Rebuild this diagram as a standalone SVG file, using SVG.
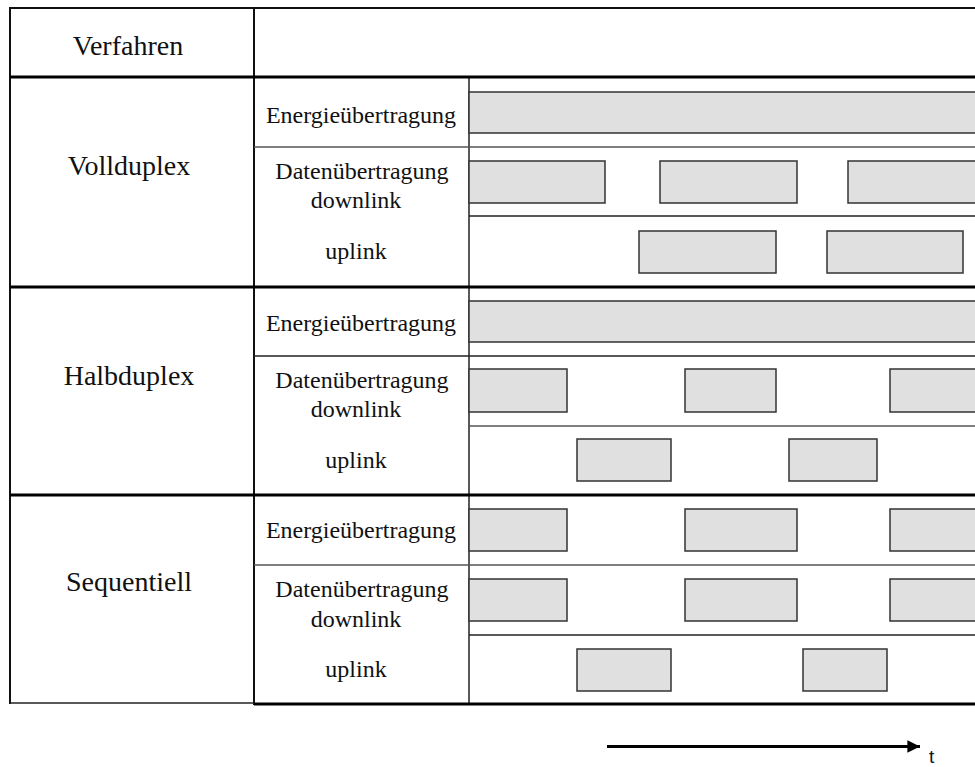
<svg xmlns="http://www.w3.org/2000/svg" width="975" height="767" viewBox="0 0 975 767">
<defs>
<style>
.lbl{font-family:"Liberation Serif","Times New Roman",serif;fill:#111;text-anchor:middle}
.big{font-size:28px}
.sm{font-size:24px}
.thick{stroke:#000;stroke-width:3;fill:none}
.med{stroke:#111;stroke-width:2;fill:none}
.thin{stroke:#222;stroke-width:1.5;fill:none}
.gray{stroke:#555;stroke-width:1.5;fill:none}
.bar{fill:#e0e0e0;stroke:#333;stroke-width:1.5}
</style>
<marker id="ah" viewBox="0 0 10 10" refX="10" refY="5" markerWidth="4.4" markerHeight="4.2" markerUnits="strokeWidth" orient="auto">
<path d="M0,0 L10,5 L0,10 z" fill="#000"/>
</marker>
</defs>
<rect width="975" height="767" fill="#fff"/>

<g id="frame">
<line class="med" x1="10" y1="8" x2="975" y2="8"/>
<line class="med" x1="10" y1="7" x2="10" y2="704"/>
<line class="med" x1="254" y1="7" x2="254" y2="705"/>
<line class="thin" x1="469" y1="77" x2="469" y2="704"/>
<line class="thick" x1="10" y1="77" x2="975" y2="77"/>
<line class="thick" x1="10" y1="287" x2="975" y2="287"/>
<line class="thick" x1="10" y1="495" x2="975" y2="495"/>
<line class="thin" x1="10" y1="703" x2="254" y2="703"/>
<line class="thick" x1="254" y1="704" x2="975" y2="704"/>
</g>

<g id="header">
<text class="lbl big" x="128" y="55">Verfahren</text>
</g>

<g id="vollduplex">
<text class="lbl big" x="129" y="175">Vollduplex</text>
<text class="lbl sm" x="361" y="123">Energieübertragung</text>
<text class="lbl sm" x="362" y="179">Datenübertragung</text>
<text class="lbl sm" x="356" y="208">downlink</text>
<text class="lbl sm" x="356" y="259">uplink</text>
<line class="gray" x1="254" y1="147" x2="975" y2="147"/>
<line class="thin" x1="469" y1="216" x2="975" y2="216"/>
<rect class="bar" x="469" y="92" width="510" height="41"/>
<rect class="bar" x="469" y="161" width="136" height="42"/>
<rect class="bar" x="660" y="161" width="137" height="42"/>
<rect class="bar" x="848" y="161" width="131" height="42"/>
<rect class="bar" x="639" y="231" width="137" height="42"/>
<rect class="bar" x="827" y="231" width="136" height="42"/>
</g>

<g id="halbduplex">
<text class="lbl big" x="129" y="385">Halbduplex</text>
<text class="lbl sm" x="361" y="331">Energieübertragung</text>
<text class="lbl sm" x="362" y="388">Datenübertragung</text>
<text class="lbl sm" x="356" y="417">downlink</text>
<text class="lbl sm" x="356" y="468">uplink</text>
<line class="thin" x1="254" y1="356" x2="975" y2="356"/>
<line class="gray" x1="469" y1="426" x2="975" y2="426"/>
<rect class="bar" x="469" y="301" width="510" height="41"/>
<rect class="bar" x="469" y="369" width="98" height="43"/>
<rect class="bar" x="685" y="369" width="91" height="43"/>
<rect class="bar" x="890" y="369" width="89" height="43"/>
<rect class="bar" x="577" y="439" width="94" height="42"/>
<rect class="bar" x="789" y="439" width="88" height="42"/>
</g>

<g id="sequentiell">
<text class="lbl big" x="129" y="591">Sequentiell</text>
<text class="lbl sm" x="361" y="538">Energieübertragung</text>
<text class="lbl sm" x="362" y="597">Datenübertragung</text>
<text class="lbl sm" x="356" y="627">downlink</text>
<text class="lbl sm" x="356" y="677">uplink</text>
<line class="gray" x1="254" y1="565" x2="975" y2="565"/>
<line class="thin" x1="469" y1="635" x2="975" y2="635"/>
<rect class="bar" x="469" y="509" width="98" height="42"/>
<rect class="bar" x="685" y="509" width="112" height="42"/>
<rect class="bar" x="890" y="509" width="89" height="42"/>
<rect class="bar" x="469" y="579" width="98" height="42"/>
<rect class="bar" x="685" y="579" width="112" height="42"/>
<rect class="bar" x="890" y="579" width="89" height="42"/>
<rect class="bar" x="577" y="649" width="94" height="42"/>
<rect class="bar" x="803" y="649" width="84" height="42"/>
</g>

<g id="connectors">
<line x1="607" y1="746.5" x2="920" y2="746.5" stroke="#000" stroke-width="3" marker-end="url(#ah)"/>
</g>
<g id="time-label">
<text x="929" y="763" font-family="Liberation Sans, Arial, sans-serif" font-size="19" fill="#111">t</text>
</g>
</svg>
